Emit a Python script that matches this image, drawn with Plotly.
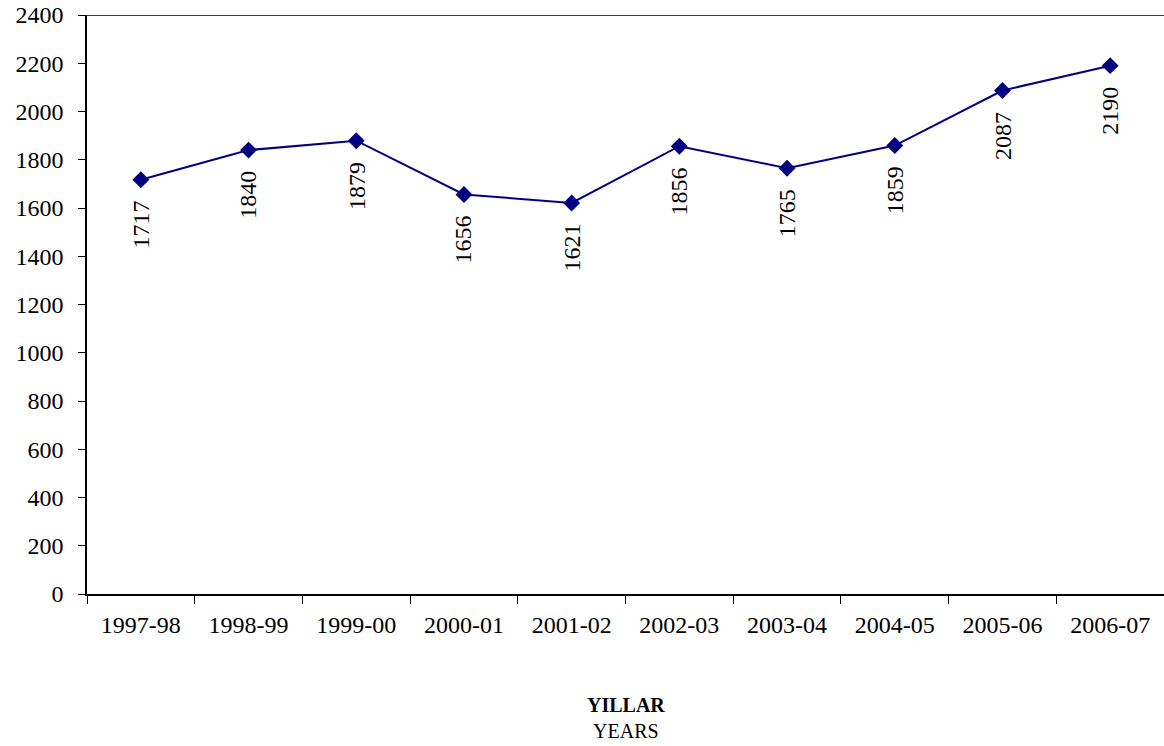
import plotly.graph_objects as go

years = ["1997-98", "1998-99", "1999-00", "2000-01", "2001-02",
         "2002-03", "2003-04", "2004-05", "2005-06", "2006-07"]
values = [1717, 1840, 1879, 1656, 1621, 1856, 1765, 1859, 2087, 2190]

font_family = "Liberation Serif"

fig = go.Figure(go.Scatter(
    x=years, y=values,
    mode="lines+markers",
    line=dict(color="#000080", width=2),
    marker=dict(symbol="diamond", size=13, color="#000080"),
))

# rotated value labels under each point
for yr, v in zip(years, values):
    fig.add_annotation(x=yr, y=v, text=str(v), textangle=-90,
                       showarrow=False, xanchor="center", yanchor="top",
                       yshift=-19, font=dict(size=24, color="black", family=font_family))

fig.add_annotation(xref="paper", yref="paper", x=0.5, y=-0.169,
                   text="<b>YILLAR</b><br>YEARS", showarrow=False,
                   xanchor="center", yanchor="top",
                   font=dict(size=20, color="black", family=font_family))

# top border line at 2400
fig.add_shape(type="line", xref="paper", yref="y", x0=-0.007, x1=1, y0=2400, y1=2400,
              line=dict(color="black", width=1.5))

fig.update_layout(
    width=1164, height=746,
    margin=dict(l=87, r=0, t=15, b=152),
    plot_bgcolor="white", paper_bgcolor="white",
    showlegend=False,
    font=dict(family=font_family, size=24, color="black"),
    xaxis=dict(type="category", range=[-0.5, 9.5], automargin=False,
               showgrid=False, showline=True, linecolor="black",
               linewidth=1.5, ticks="outside", tickson="boundaries", ticklen=8,
               tickcolor="black", tickfont=dict(size=24), ticklabelstandoff=8),
    yaxis=dict(range=[0, 2400], dtick=200, automargin=False,
               showgrid=False, showline=True,
               linecolor="black", linewidth=1.5, ticks="outside", ticklen=7,
               tickcolor="black", zeroline=False, tickfont=dict(size=24),
               ticklabelstandoff=10),
)

# drop the default 8px body margin so the figure fills the window
fig.write_html("out.html", config={"displayModeBar": False},
               post_script="document.body.style.margin='0';")
